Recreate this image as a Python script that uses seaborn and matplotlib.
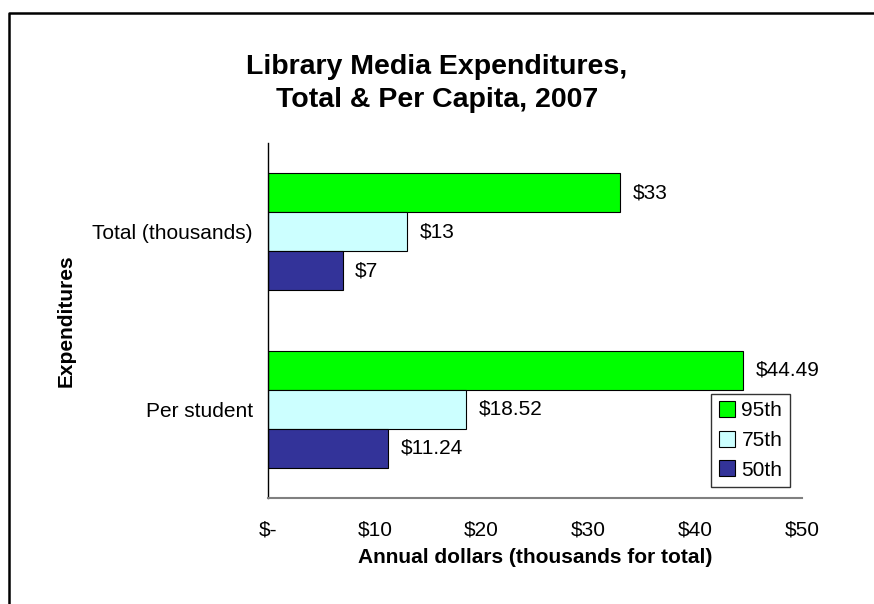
import pandas as pd
import seaborn as sns
import matplotlib.pyplot as plt
from matplotlib.lines import Line2D

categories = ["Total (thousands)", "Per student"]
percentiles = ["95th", "75th", "50th"]
total_values = [33, 13, 7]
per_student_values = [44.49, 18.52, 11.24]
colors = ["#00FF00", "#CCFFFF", "#333399"]
x_ticks = [0, 10, 20, 30, 40, 50]
x_tick_labels = ["$-", "$10", "$20", "$30", "$40", "$50"]

sns.set_theme(style="white")
plt.rcParams['font.family'] = ['Liberation Sans', 'DejaVu Sans']
plt.rcParams['text.parse_math'] = False
plt.rcParams['text.color'] = 'black'
plt.rcParams['axes.labelcolor'] = 'black'
plt.rcParams['xtick.color'] = 'black'
plt.rcParams['ytick.color'] = 'black'

rows = []
for p, v in zip(percentiles, total_values):
    rows.append({"category": categories[0], "percentile": p, "value": v, "label": f"${v:.0f}"})
for p, v in zip(percentiles, per_student_values):
    rows.append({"category": categories[1], "percentile": p, "value": v, "label": f"${v:.2f}"})
df = pd.DataFrame(rows)

fig = plt.figure(figsize=(8.74, 6.04), dpi=100)
ax = fig.add_axes([268 / 874, 106 / 604, 534 / 874, 355 / 604])

sns.barplot(data=df, y="category", x="value", hue="percentile", order=categories,
            hue_order=percentiles, palette=colors, saturation=1, orient="h", width=0.66,
            edgecolor="black", linewidth=0.8, errorbar=None, ax=ax)

for container, p in zip(ax.containers, percentiles):
    labels = [df[(df.category == c) & (df.percentile == p)]["label"].iloc[0] for c in categories]
    ax.bar_label(container, labels=labels, padding=9, fontsize=15, color="black")

ax.set_xlim(0, 50)
ax.set_xticks(x_ticks)
ax.set_xticklabels(x_tick_labels)
ax.tick_params(axis="x", length=0, pad=16, labelsize=15)
ax.tick_params(axis="y", length=0, pad=11, labelsize=15)
ax.set_xlabel("Annual dollars (thousands for total)", fontsize=15, fontweight="bold", labelpad=6)
ax.set_ylabel("Expenditures", fontsize=15, fontweight="bold", labelpad=12)

sns.despine(ax=ax)
ax.spines["left"].set_color("black")
ax.spines["left"].set_linewidth(1)
ax.spines["bottom"].set_color("#808080")
ax.spines["bottom"].set_linewidth(1.5)

ax.legend(loc="lower left", bbox_to_anchor=(0.83, 0.031), borderaxespad=0, frameon=True,
          fancybox=False, edgecolor="black", fontsize=15, handlelength=0.8, handleheight=0.8,
          handletextpad=0.3, labelspacing=0.5, borderpad=0.35, title=None)

fig.text(0.5, 1 - 74 / 604, "Library Media Expenditures,", ha="center", va="baseline",
         fontsize=20.5, fontweight="bold")
fig.text(0.5, 1 - 107 / 604, "Total & Per Capita, 2007", ha="center", va="baseline",
         fontsize=20.5, fontweight="bold")

fig.add_artist(Line2D([9 / 874, 9 / 874, 1], [0, 1 - 13 / 604, 1 - 13 / 604],
                      transform=fig.transFigure, color="black", lw=1.8))

fig.savefig("out.png", dpi=100)
